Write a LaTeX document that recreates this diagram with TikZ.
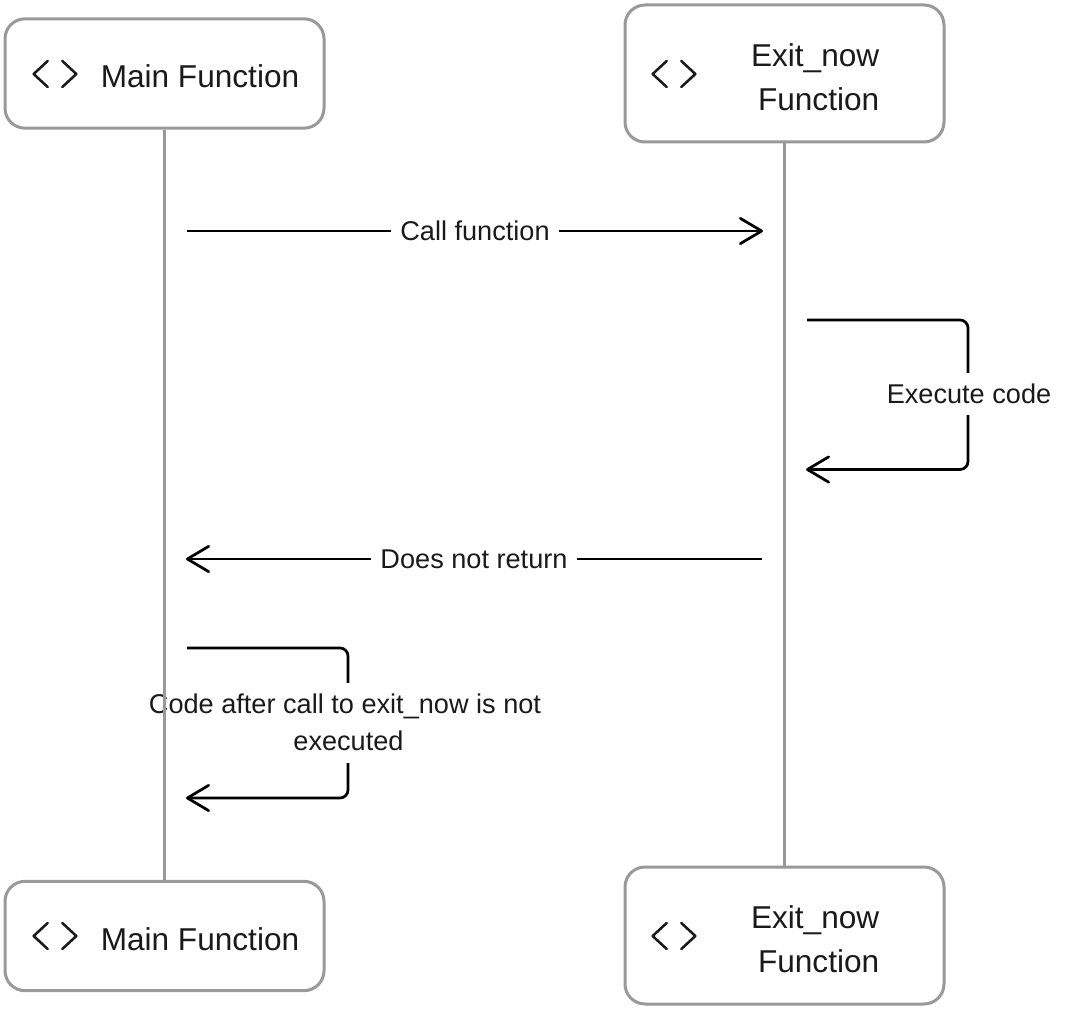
\documentclass[tikz,border=0pt]{standalone}
\usepackage{fontspec}
\setmainfont{Liberation Sans}
\usetikzlibrary{arrows.meta,calc}
\definecolor{edgegrey}{HTML}{999999}
\definecolor{ink}{HTML}{1A1A1A}
\tikzset{
  x=0.75pt,y=-0.75pt,
  boxshape/.style={draw=edgegrey,line width=2.25pt,rounded corners=15pt,fill=white,minimum width=239.25pt,inner sep=0pt},
  mainbox/.style={boxshape,minimum height=82pt},
  exitbox/.style={boxshape,minimum height=102.75pt},
  title/.style={text=ink,inner sep=0pt,font=\fontsize{23.7}{33}\selectfont},
  lifeline/.style={draw=edgegrey,line width=2.25pt},
  conn/.style={draw=black,line width=2.05pt,rounded corners=6pt,-{Straight Barb[length=16pt,width=19pt,line width=2.05pt,round]}},
  lab/.style={text=ink,fill=white,inner xsep=7pt,inner ysep=0pt,minimum height=32pt,align=center,font=\fontsize{20.35}{27.75}\selectfont},
  icon/.style={draw=ink,line width=1.9pt,line cap=round,line join=round},
}
\newcommand{\chev}[1]{%
  \draw[icon] ([xshift=11pt,yshift=9.75pt]#1) -- ++(-10.5pt,-9.75pt) -- ++(10.5pt,-9.75pt);
  \draw[icon] ([xshift=22pt,yshift=9.75pt]#1) -- ++(10.5pt,-9.75pt) -- ++(-10.5pt,-9.75pt);
}
\begin{document}
\begin{tikzpicture}
\useasboundingbox[fill=white] (0,0) rectangle (1065,1020);
% boxes
\node[mainbox] (m1) at (164.5,73.5) {};
\node[exitbox] (e1) at (784.5,73.5) {};
\node[mainbox] (m2) at (164.5,936) {};
\node[exitbox] (e2) at (784.5,935.5) {};
% box texts
\node[title,anchor=base] (m1t) at (200,88) {Main Function};
\node[title,anchor=base] (m2t) at (200,950) {Main Function};
\node[title,anchor=east,align=right] (e1t) at (879.5,77) {Exit\_now\\Function};
\node[title,anchor=east,align=right] (e2t) at (879.5,939) {Exit\_now\\Function};
% icons
\coordinate (i1) at (33,74);
\coordinate (i2) at (33,936);
\coordinate (i3) at (652,74);
\coordinate (i4) at (652,936);
\chev{i1}\chev{i2}\chev{i3}\chev{i4}
% connector ends
\coordinate (c1s) at (187,231);
\coordinate (c1e) at (763,231);
\coordinate (c2s) at (807,320);
\coordinate (c2a) at (968,320);
\coordinate (c2b) at (968,469.5);
\coordinate (c2e) at (806,469.5);
\coordinate (c3s) at (762,559);
\coordinate (c3e) at (186,559);
\coordinate (c4s) at (187,648);
\coordinate (c4a) at (348,648);
\coordinate (c4b) at (348,798);
\coordinate (c4e) at (186,798);
% connectors
\draw[conn] (c1s) -- (c1e);
\draw[conn] (c2s) -- (c2a) -- (c2b) -- (c2e);
\draw[conn] (c3s) -- (c3e);
\draw[conn] (c4s) -- (c4a) -- (c4b) -- (c4e);
% labels
\node[lab] (l1) at ($(c1s)!0.5!(c1e)$) {Call function};
\node[lab] (l2) at (969,394) {Execute code};
\node[lab] (l3) at ($(c3s)!0.5!(c3e)$) {Does not return};
\node[lab,minimum height=60pt] (l4) at (348.5,722.5) {Code after call to exit\_now is not\hspace*{5.25pt}\\executed};
% lifelines
\draw[lifeline] (m1.south) -- (m2.north);
\draw[lifeline] (e1.south) -- (e2.north);
\end{tikzpicture}
\end{document}
